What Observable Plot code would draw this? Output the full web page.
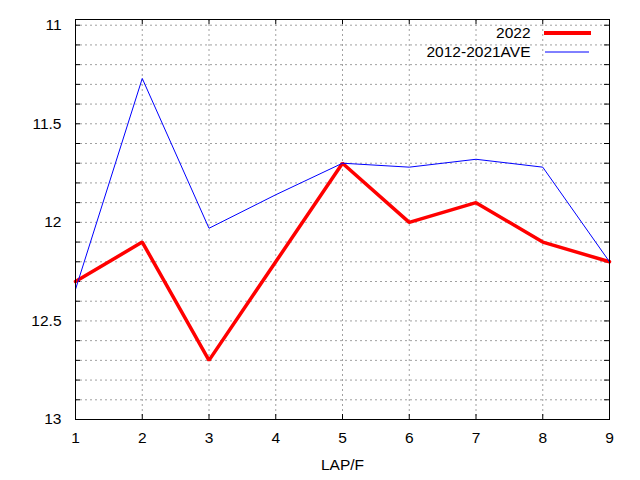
<!DOCTYPE html>
<html>
<head>
<meta charset="utf-8">
<script src="https://cdn.jsdelivr.net/npm/d3@7"></script>
<script src="https://cdn.jsdelivr.net/npm/@observablehq/plot@0.6"></script>
<style>
  html, body { margin: 0; padding: 0; background: white; }
</style>
</head>
<body>
<div id="chart"></div>
<script>
const laps = [1, 2, 3, 4, 5, 6, 7, 8, 9];
const series2022 = [12.3, 12.1, 12.7, 12.2, 11.7, 12.0, 11.9, 12.1, 12.2];
const seriesAve = [12.34, 11.27, 12.03, 11.86, 11.7, 11.72, 11.68, 11.72, 12.2];
const seriesNames = ["2022", "2012-2021AVE"];
const xTicks = [1, 2, 3, 4, 5, 6, 7, 8, 9];
const yLabelTicks = [11, 11.5, 12, 12.5, 13];
const yMinorTicks = [11, 11.1, 11.2, 11.3, 11.4, 11.5, 11.6, 11.7, 11.8, 11.9, 12, 12.1, 12.2, 12.3, 12.4, 12.5, 12.6, 12.7, 12.8, 12.9, 13];
const xLabel = "LAP/F";

const d2022 = laps.map((x, i) => ({x, y: series2022[i]}));
const dAve = laps.map((x, i) => ({x, y: seriesAve[i]}));

const W = 640, H = 480, mL = 75, mR = 31, mT = 19, mB = 61;
const pw = W - mL - mR, ph = H - mT - mB;
const gridStyle = {stroke: "#a0a0a0", strokeOpacity: 1, strokeDasharray: "2,3", strokeWidth: 1};

const chart = Plot.plot({
  width: W,
  height: H,
  marginLeft: mL,
  marginRight: mR,
  marginTop: mT,
  marginBottom: mB,
  style: {fontFamily: "'Liberation Sans', Arial, sans-serif", fontSize: "15.5px", background: "white", color: "black"},
  x: {domain: [1, 9]},
  y: {domain: [13, 10.971]},
  marks: [
    Plot.gridY(yMinorTicks.filter(d => d !== 13), gridStyle),
    Plot.gridX(xTicks.filter(d => d !== 1 && d !== 9), gridStyle),
    Plot.tickY(yMinorTicks, {y: d => d, insetRight: pw - 5, stroke: "black"}),
    Plot.tickY(yMinorTicks, {y: d => d, insetLeft: pw - 5, stroke: "black"}),
    Plot.tickX(xTicks, {x: d => d, insetBottom: ph - 5, stroke: "black"}),
    Plot.tickX(xTicks, {x: d => d, insetTop: ph - 5, stroke: "black"}),
    Plot.axisY(yLabelTicks, {anchor: "left", tickSize: 0, tickPadding: 14, tickFormat: d => String(d), label: null}),
    Plot.axisX(xTicks, {anchor: "bottom", tickSize: 0, tickPadding: 12, tickFormat: d => String(d), label: null}),
    Plot.text([xLabel], {frameAnchor: "bottom", dy: 46, lineAnchor: "middle", text: d => d}),
    Plot.line(d2022, {x: "x", y: "y", stroke: "#ff0000", strokeWidth: 3.5, strokeLinejoin: "miter"}),
    Plot.line(dAve, {x: "x", y: "y", stroke: "#0000ff", strokeWidth: 1}),
    Plot.frame({stroke: "black", strokeWidth: 1}),
    Plot.text([seriesNames[0]], {frameAnchor: "top-right", dx: -79, dy: 13.5, textAnchor: "end", lineAnchor: "middle", text: d => d}),
    Plot.text([seriesNames[1]], {frameAnchor: "top-right", dx: -79, dy: 32.5, textAnchor: "end", lineAnchor: "middle", text: d => d})
  ]
});

const svg = d3.select(chart);
svg.append("line").attr("x1", 544).attr("x2", 591).attr("y1", 33).attr("y2", 33)
  .attr("stroke", "#ff0000").attr("stroke-width", 4);
svg.append("line").attr("x1", 545).attr("x2", 589).attr("y1", 52).attr("y2", 52)
  .attr("stroke", "#0000ff").attr("stroke-width", 1);

document.getElementById("chart").appendChild(chart);
</script>
</body>
</html>
